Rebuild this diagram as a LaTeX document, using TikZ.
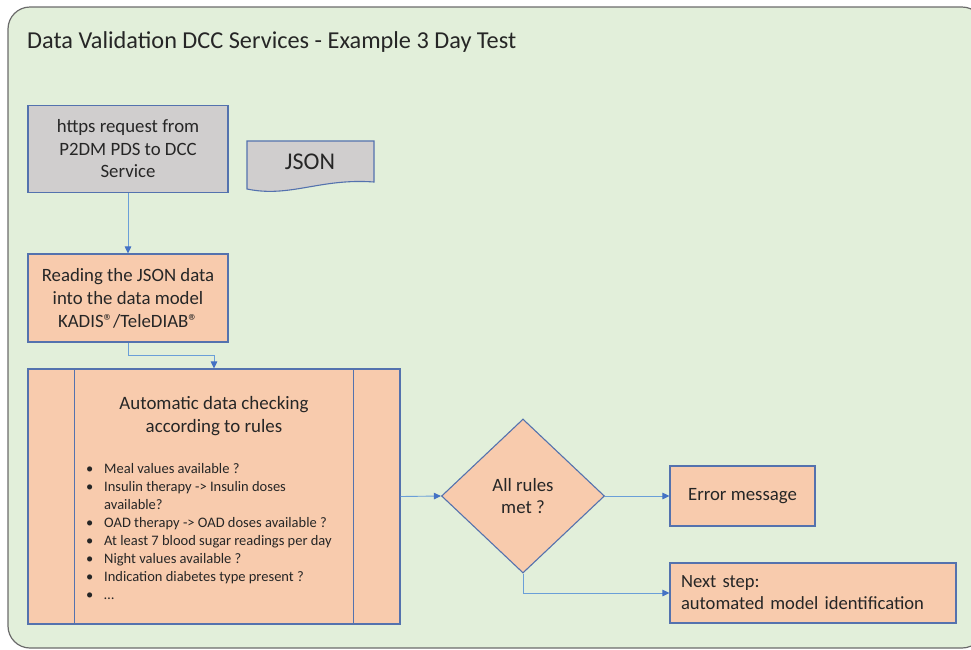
\documentclass[tikz,border=0pt]{standalone}
\usepackage{fontspec}
\setmainfont{Carlito}
\usetikzlibrary{arrows.meta,shapes.geometric}
\definecolor{bgcol}{HTML}{E2EFDA}
\definecolor{bgline}{HTML}{6B6B6B}
\definecolor{boxline}{HTML}{5472AE}
\definecolor{grayfill}{HTML}{D0CECE}
\definecolor{orfill}{HTML}{F8CBAD}
\definecolor{connblue}{HTML}{6A9FD8}
\definecolor{tipblue}{HTML}{4472C4}
\definecolor{txt}{HTML}{262626}
\newcommand{\regmark}{®}
\begin{document}
\begin{tikzpicture}[x=1pt,y=-1pt,
  every node/.style={text=txt},
  box/.style={draw=boxline, line width=1.1pt, rectangle, inner sep=0pt, align=center},
  link/.style={draw=connblue, line width=0.9pt, -{Triangle[length=7pt,width=6.5pt,color=tipblue]}}]
\useasboundingbox (0,0) rectangle (971,649);
\clip (0,0) rectangle (971,649);
% background panel
\draw[draw=bgline, line width=1.2pt, fill=bgcol, rounded corners=22pt] (8,7) rectangle (984,648);
% title
\node[anchor=base west, inner sep=0pt, font=\fontsize{24.3}{28}\selectfont] (title) at (27,48) {Data Validation DCC Services - Example 3 Day Test};
% request box
\node[box, fill=grayfill, minimum width=200, minimum height=87, font=\fontsize{18.8}{22.5}\selectfont] (req) at (128,149) {https request from\\P2DM PDS to DCC\\Service};
% JSON document shape
\draw[draw=boxline, line width=1.1pt, fill=grayfill] (247,141) -- (374,141) -- (374,182) .. controls (320,178) and (290,198) .. (247,189) -- cycle;
\node[font=\fontsize{24}{28}\selectfont] (json) at (310,162) {JSON};
% reading box
\node[box, fill=orfill, minimum width=200, minimum height=88, font=\fontsize{18.8}{23}\selectfont] (read) at (128,298) {Reading the JSON data\\into the data model\\KADIS\regmark/TeleDIAB\regmark};
% checking box (predefined process)
\node[box, fill=orfill, minimum width=372, minimum height=255] (check) at (214,496.5) {};
\draw[draw=boxline, line width=1.1pt] ([xshift=47pt]check.north west) -- ([xshift=47pt]check.south west);
\draw[draw=boxline, line width=1.1pt] ([xshift=-47pt]check.north east) -- ([xshift=-47pt]check.south east);
\node[align=center, inner sep=0pt, font=\fontsize{18.9}{23}\selectfont] (checktitle) at (214,416) {Automatic data checking\\according to rules};
\node[anchor=north west, inner sep=0pt, align=left, font=\fontsize{14.5}{18.1}\selectfont] (rules) at (86,463) {%
\makebox[18pt][l]{\textbullet}Meal values available ?\\
\makebox[18pt][l]{\textbullet}Insulin therapy -> Insulin doses\\
\hspace*{18pt}available?\\
\makebox[18pt][l]{\textbullet}OAD therapy -> OAD doses available ?\\
\makebox[18pt][l]{\textbullet}At least 7 blood sugar readings per day\\
\makebox[18pt][l]{\textbullet}Night values available ?\\
\makebox[18pt][l]{\textbullet}Indication diabetes type present ?\\
\makebox[18pt][l]{\textbullet}…};
% decision
\node[draw=boxline, line width=1.1pt, fill=orfill, diamond, minimum width=163, minimum height=154, inner sep=0pt, align=center, font=\fontsize{18.8}{21.5}\selectfont] (dec) at (523,496) {All rules\\met ?};
% outcomes
\node[box, fill=orfill, minimum width=145, minimum height=60, font=\fontsize{18.8}{22}\selectfont] (err) at (742.5,496) {Error message};
\node[box, fill=orfill, minimum width=286, minimum height=60, align=left, text width=264pt, font=\fontsize{18.6}{22}\selectfont] (next) at (813,593) {Next step:\\automated model identification};
% connectors
\draw[link] (req.south) -- (read.north);
\draw[link] (read.south) -- ++(0,13) -| (check.north);
\draw[link] (check.east) -- (dec.west);
\draw[link] (dec.east) -- (err.west);
\draw[link] (dec.south) |- (next.west);
\end{tikzpicture}
\end{document}
